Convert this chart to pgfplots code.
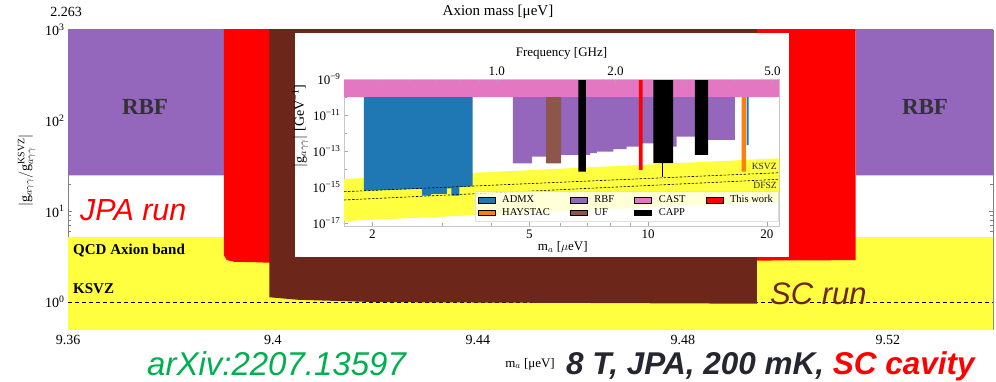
\documentclass[border=0pt]{standalone}
\usepackage{pgfplots}
\pgfplotsset{compat=1.18}
\usepackage{fontspec}
\setmainfont{Liberation Serif}
\newfontfamily\arial{Liberation Sans}
\definecolor{tabblue}{RGB}{31,119,180}
\definecolor{taborange}{RGB}{255,127,14}
\definecolor{tabpurple}{RGB}{148,103,189}
\definecolor{tabbrown}{RGB}{140,86,75}
\definecolor{tabpink}{RGB}{227,119,194}
\definecolor{qcdyellow}{RGB}{255,255,64}
\definecolor{scbrown}{RGB}{108,38,26}
\definecolor{arxivgreen}{RGB}{0,176,80}
\definecolor{darktext}{RGB}{38,38,48}
\definecolor{rbfgray}{RGB}{50,50,50}
\newcommand{\fs}[1]{\fontsize{#1}{#1}\selectfont}
\begin{document}
\begin{tikzpicture}
\path[use as bounding box] (0pt,0pt) rectangle (996pt,381pt);
% ---------------- main axis ----------------
\begin{axis}[
  at={(68pt,52pt)}, anchor=south west, scale only axis,
  width=925pt, height=299pt,
  xmin=9.36, xmax=9.5405, ymode=log, ymin=0.505, ymax=1000,
  xtick={9.36,9.40,9.44,9.48,9.52}, xticklabels={9.36,9.4,9.44,9.48,9.52},
  ytick={1,10,100,1000},
  yticklabels={10\textsuperscript{0},10\textsuperscript{1},10\textsuperscript{2},10\textsuperscript{3}},
  axis line style={gray}, tick style={gray},
  tick label style={font=\fs{14}, black},
  xticklabel style={yshift=-2.5pt},
  ylabel={$|\mathrm{g}_{a\gamma\gamma}/\mathrm{g}_{a\gamma\gamma}^{\mathrm{KSVZ}}|$},
  ylabel style={font=\fs{14}, at={(axis description cs:-0.045,0.53)}, anchor=center},
  xlabel={m$_a$ [μeV]},
  xlabel style={font=\fs{13}, at={(axis description cs:0.4995,-0.117)}, anchor=center},
]
\addplot[fill=qcdyellow, draw=none] coordinates {(9.35,0.3)(9.55,0.3)(9.55,5.2)(9.35,5.2)(9.35,0.3)};
\addplot[fill=tabpurple, draw=none] coordinates {(9.35,25)(9.3904,25)(9.3904,1500)(9.35,1500)(9.35,25)};
\addplot[fill=tabpurple, draw=none] coordinates {(9.5138,25)(9.55,25)(9.55,1500)(9.5138,1500)(9.5138,25)};
\addplot[black, line width=0.9pt, dash pattern=on 4pt off 3pt] coordinates {(9.36,1)(9.5405,1)};
\addplot[fill=red, draw=none] coordinates {(9.3904,1500)(9.3904,3.3)(9.3910,2.9)(9.3925,2.78)(9.396,2.76)(9.399,2.72)(9.46,2.8)(9.50,2.88)(9.5137,2.9)(9.5137,1500)(9.3904,1500)};
\addplot[fill=scbrown, draw=none] coordinates {(9.3993,1500)(9.3993,1.13)(9.405,1.06)(9.42,1.0)(9.4944,0.96)(9.4944,1500)(9.3993,1500)};
\end{axis}
% ---------------- inset background ----------------
\fill[white] (295pt,124pt) rectangle (789pt,348pt);
% ---------------- inset axis ----------------
\begin{axis}[
  at={(344pt,155pt)}, anchor=south west, scale only axis,
  width=435pt, height=147pt,
  xmode=log, ymode=log, xmin=1.694, xmax=21.48, ymin=6.8e-18, ymax=1e-9,
  xtick={2,5,10,20}, xticklabels={2,5,10,20},
  minor xtick={3,4,6,7,8,9},
  ytick={1e-17,1e-15,1e-13,1e-11,1e-9},
  yticklabels={10\textsuperscript{−17},10\textsuperscript{−15},10\textsuperscript{−13},10\textsuperscript{−11},10\textsuperscript{−9}},
  minor ytick={1e-16,1e-14,1e-12,1e-10},
  xtick pos=left, ytick pos=left,
  axis line style={gray!45}, tick style={gray!70},
  tick label style={font=\fs{13}, black},
  xlabel={m$_a$ [$\mu$eV]},
  xlabel style={font=\fs{13}, at={(axis description cs:0.503,-0.143)}, anchor=center},
  ylabel={$|\mathrm{g}_{a\gamma\gamma}|$ [GeV\textsuperscript{−1}]},
  ylabel style={font=\fs{14}, at={(axis description cs:-0.101,0.68)}, anchor=center},
  legend columns=4, legend cell align=left,
  legend style={at={(0.998,0.034)}, anchor=south east, font=\fs{10.5},
    fill=white, fill opacity=0.8, text opacity=1, draw=gray!25, draw opacity=1,
    inner xsep=3pt, inner ysep=2pt,
    /tikz/every odd column/.append style={column sep=5pt},
    /tikz/every even column/.append style={column sep=18pt}},
]
\addlegendimage{area legend, fill=tabblue, draw=none, fill opacity=1}\addlegendentry{ADMX}
\addlegendimage{area legend, fill=tabpurple, draw=none, fill opacity=1}\addlegendentry{RBF}
\addlegendimage{area legend, fill=tabpink, draw=none, fill opacity=1}\addlegendentry{CAST}
\addlegendimage{area legend, fill=red, draw=none, fill opacity=1}\addlegendentry{This work}
\addlegendimage{area legend, fill=taborange, draw=none, fill opacity=1}\addlegendentry{HAYSTAC}
\addlegendimage{area legend, fill=tabbrown, draw=none, fill opacity=1}\addlegendentry{UF}
\addlegendimage{area legend, fill=black, draw=none, fill opacity=1}\addlegendentry{CAPP}
% QCD band
\addplot[forget plot, fill=qcdyellow, draw=none] coordinates {(1.694,2.78e-15)(21.48,3.93e-14)(21.48,1.52e-16)(1.694,1.29e-17)(1.694,2.78e-15)};
% CAST
\addplot[forget plot, fill=tabpink, draw=none] coordinates {(1.694,1e-10)(21.48,1e-10)(21.48,1e-9)(1.694,1e-9)(1.694,1e-10)};
% ADMX
\addplot[forget plot, fill=tabblue, draw=none] coordinates {(1.901,1e-10)(3.589,1e-10)(3.589,1.1e-15)(3.321,1.0e-15)(3.321,3.3e-16)(3.170,3.3e-16)(3.170,8.5e-16)(3.09,8.5e-16)(3.09,4.1e-16)(2.816,4.1e-16)(2.816,3.3e-16)(2.672,3.3e-16)(2.672,8.0e-16)(1.901,6.2e-16)(1.901,1e-10)};
\addplot[forget plot, fill=tabblue, draw=none] coordinates {(17.77,1e-10)(17.98,1e-10)(17.98,2.15e-13)(17.77,2.15e-13)(17.77,1e-10)};
% RBF
\addplot[forget plot, fill=tabpurple, draw=none] coordinates {(4.541,1e-10)(16.60,1e-10)(16.60,4.1e-13)(14.20,4.1e-13)(13.14,6.2e-13)(11.81,6.2e-13)(11.81,1.73e-13)(11.58,1.73e-13)(10.31,2.68e-13)(9.69,2.68e-13)(9.54,1.73e-13)(8.826,1.73e-13)(8.826,1.29e-13)(8.166,1.29e-13)(8.166,9.1e-14)(7.413,9.1e-14)(7.413,7.7e-14)(7.128,7.7e-14)(7.128,6.0e-14)(6.018,6.0e-14)(5.514,4.8e-14)(5.073,4.8e-14)(5.073,2.07e-14)(4.541,2.07e-14)(4.541,1e-10)};
% UF
\addplot[forget plot, fill=tabbrown, draw=none] coordinates {(5.514,1e-10)(6.018,1e-10)(6.018,2.07e-14)(5.514,2.07e-14)(5.514,1e-10)};
% CAPP
\addplot[forget plot, fill=black, draw=none] coordinates {(6.658,1e-9)(6.950,1e-9)(6.950,7.1e-15)(6.658,7.1e-15)(6.658,1e-9)};
\addplot[forget plot, fill=black, draw=none] coordinates {(10.31,1e-9)(11.58,1e-9)(11.58,2.1e-14)(10.31,2.1e-14)(10.31,1e-9)};
\addplot[forget plot, black, line width=0.6pt] coordinates {(10.89,2.1e-14)(10.89,3.7e-15)};
\addplot[forget plot, fill=black, draw=none] coordinates {(13.14,1e-9)(14.20,1e-9)(14.20,6.0e-14)(13.14,6.0e-14)(13.14,1e-9)};
% This work
\addplot[forget plot, fill=red, draw=none] coordinates {(9.47,1e-9)(9.68,1e-9)(9.68,8.8e-15)(9.47,8.8e-15)(9.47,1e-9)};
% HAYSTAC
\addplot[forget plot, fill=taborange, draw=none] coordinates {(17.26,1e-10)(17.70,1e-10)(17.70,7.1e-15)(17.26,7.1e-15)(17.26,1e-10)};
% KSVZ / DFSZ lines
\addplot[forget plot, black, line width=0.6pt, dash pattern=on 2.5pt off 1.5pt] coordinates {(1.694,5.5e-16)(21.48,6.2e-15)};
\addplot[forget plot, black, line width=0.6pt, dash pattern=on 2.5pt off 1.5pt] coordinates {(1.694,1.9e-16)(21.48,2.68e-15)};
\node[anchor=east, font=\fs{9.5}, text=darktext, inner sep=0pt] at (rel axis cs:0.995,0.403) {KSVZ};
\node[anchor=east, font=\fs{9.5}, text=darktext, inner sep=0pt] at (rel axis cs:0.995,0.279) {DFSZ};
\end{axis}
% ---------------- inset top frequency axis ----------------
\begin{axis}[
  at={(344pt,155pt)}, anchor=south west, scale only axis,
  width=435pt, height=147pt,
  xmode=log, xmin=0.40960, xmax=5.1938, ymin=0, ymax=1,
  axis x line*=top, axis y line=none,
  xtick={1,2,5}, xticklabels={1.0,2.0,5.0},
  minor xtick={0.5,0.6,0.7,0.8,0.9,3,4},
  axis line style={gray!45}, tick style={gray!70},
  tick label style={font=\fs{13}, black},
  xlabel={Frequency [GHz]}, xlabel style={font=\fs{13}},
]
\end{axis}
% ---------------- annotations ----------------
\node[font=\fs{14}] at (66pt,369pt) {2.263};
\node[font=\fs{15}] at (498pt,369pt) {Axion mass [μeV]};
\node[font=\bfseries\fs{23}, text=rbfgray] at (145pt,274pt) {RBF};
\node[font=\bfseries\fs{23}, text=rbfgray] at (925pt,274pt) {RBF};
\node[font=\bfseries\fs{15}, anchor=west, inner sep=0pt] at (73pt,130pt) {QCD Axion band};
\node[font=\bfseries\fs{15}, anchor=west, inner sep=0pt] at (73pt,92pt) {KSVZ};
\node[font=\arial\itshape\fs{30.5}, text=red, anchor=west, inner sep=0pt] at (80pt,171pt) {JPA run};
\node[font=\arial\itshape\fs{31}, text=scbrown, anchor=west, inner sep=0pt] at (770pt,87pt) {SC run};
\node[font=\arial\itshape\fs{33}, text=arxivgreen, anchor=base west, inner sep=0pt] at (147pt,6pt) {arXiv:2207.13597};
\node[font=\arial\bfseries\itshape\fs{31.5}, text=darktext, anchor=base west, inner sep=0pt] at (566pt,7pt) {8 T, JPA, 200 mK, \textcolor{red}{SC cavity}};
\end{tikzpicture}
\end{document}
